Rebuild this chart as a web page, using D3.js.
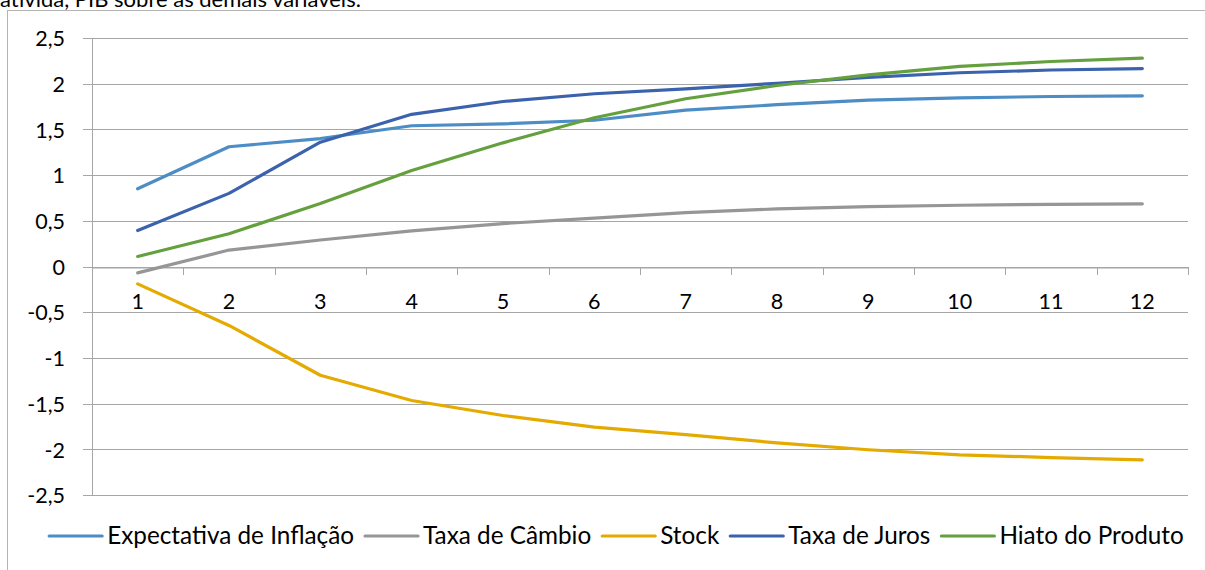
<!DOCTYPE html>
<html><head><meta charset="utf-8">
<script src="https://cdn.jsdelivr.net/npm/d3@7"></script>
<style>
html,body{margin:0;padding:0;background:#fff;overflow:hidden}
svg{display:block;font-family:Lato,"Open Sans",sans-serif}
</style></head><body>
<svg id="c" width="1205" height="570"></svg>
<script>
const categories = ["1","2","3","4","5","6","7","8","9","10","11","12"];
const seriesNames = ["Expectativa de Inflação","Taxa de Câmbio","Stock","Taxa de Juros","Hiato do Produto"];
const expectativa = [0.85,1.31,1.40,1.54,1.56,1.60,1.71,1.77,1.82,1.845,1.86,1.867];
const cambio      = [-0.07,0.18,0.29,0.39,0.47,0.53,0.59,0.63,0.655,0.67,0.68,0.686];
const stock       = [-0.19,-0.645,-1.19,-1.466,-1.63,-1.758,-1.84,-1.93,-2.005,-2.06,-2.09,-2.115];
const juros       = [0.394,0.80,1.36,1.665,1.805,1.89,1.944,2.005,2.07,2.12,2.15,2.166];
const hiato       = [0.11,0.358,0.69,1.05,1.353,1.627,1.835,1.98,2.097,2.19,2.243,2.28];
const yTicks = [2.5,2,1.5,1,0.5,0,-0.5,-1,-1.5,-2,-2.5];
const colors = ["#4d8dc5","#969696","#e5aa00","#3b62ad","#65a03f"];
const topText = "ativida, PIB sobre as demais variáveis.";

const allSeries = [expectativa,cambio,stock,juros,hiato];
const svg = d3.select("#c");
const fmt = v => String(v).replace(".", ",");

// clipped caption at top
svg.append("text").attr("x",0).attr("y",7).attr("font-size",22).attr("fill","#000").text(topText);
// chart frame
svg.append("rect").attr("x",7.5).attr("y",10.5).attr("width",1300).attr("height",700)
  .attr("fill","#fff").attr("stroke","#b4b4b4").attr("stroke-width",1);

const L=92, R=1188, T=38, B=495;
const x = d3.scaleBand().domain(categories).range([L,R]).paddingInner(0).paddingOuter(0);
const y = d3.scaleLinear().domain([-2.5,2.5]).range([B,T]);
const cx = c => x(c)+x.bandwidth()/2;

// gridlines with left tick extension
const yAxis = d3.axisLeft(y).tickValues(yTicks).tickSize(-(R-L+9)).tickPadding(0).tickFormat(fmt);
const gy = svg.append("g").attr("transform",`translate(${L-9},0)`).call(yAxis);
gy.select(".domain").remove();
gy.selectAll(".tick line").attr("stroke","#a6a6a6").attr("shape-rendering","crispEdges");
gy.selectAll(".tick text").attr("x",-18).attr("dy","0.36em").attr("font-size",21.5).attr("fill","#000")
  .attr("font-family","Lato,sans-serif");
// y axis line
svg.append("line").attr("x1",L+0.5).attr("x2",L+0.5).attr("y1",T).attr("y2",B)
  .attr("stroke","#a6a6a6");

// x axis at zero
const xAxis = d3.axisBottom(x).tickSize(0).tickPadding(0);
const gx = svg.append("g").attr("transform",`translate(0,${Math.round(y(0))+0.5})`).call(xAxis);
gx.select(".domain").attr("stroke","#a6a6a6");
gx.selectAll(".tick text").attr("y",41).attr("dy",0).attr("font-size",21.5).attr("fill","#000")
  .attr("font-family","Lato,sans-serif");
// category boundary tick marks
const bounds = categories.map(c=>x(c)).concat([R]);
svg.append("g").selectAll("line").data(bounds).join("line")
  .attr("x1",d=>Math.round(d)+0.5).attr("x2",d=>Math.round(d)+0.5)
  .attr("y1",Math.round(y(0))).attr("y2",Math.round(y(0))+8)
  .attr("stroke","#a6a6a6");

// series lines
const line = d3.line().x((d,i)=>cx(categories[i])).y(d=>y(d));
svg.append("g").selectAll("path").data(allSeries).join("path")
  .attr("d",d=>line(d)).attr("fill","none")
  .attr("stroke",(d,i)=>colors[i]).attr("stroke-width",3.2)
  .attr("stroke-linejoin","round").attr("stroke-linecap","round");

// legend
const lg = svg.append("g");
const lineLen = 53, gapText = 5, gapItem = 11, legY = 536;
let items = seriesNames.map((n,i)=>{
  const t = lg.append("text").attr("font-size",24.3).attr("fill","#000").attr("y",legY+8).text(n);
  return {t, w:t.node().getComputedTextLength(), i};
});
const total = items.reduce((s,it)=>s+lineLen+gapText+it.w,0)+gapItem*(items.length-1);
let pos = 616.5 - total/2;
items.forEach(it=>{
  lg.append("line").attr("x1",pos).attr("x2",pos+lineLen).attr("y1",legY).attr("y2",legY)
    .attr("stroke",colors[it.i]).attr("stroke-width",3.2).attr("stroke-linecap","round");
  it.t.attr("x",pos+lineLen+gapText);
  pos += lineLen+gapText+it.w+gapItem;
});
</script></body></html>
